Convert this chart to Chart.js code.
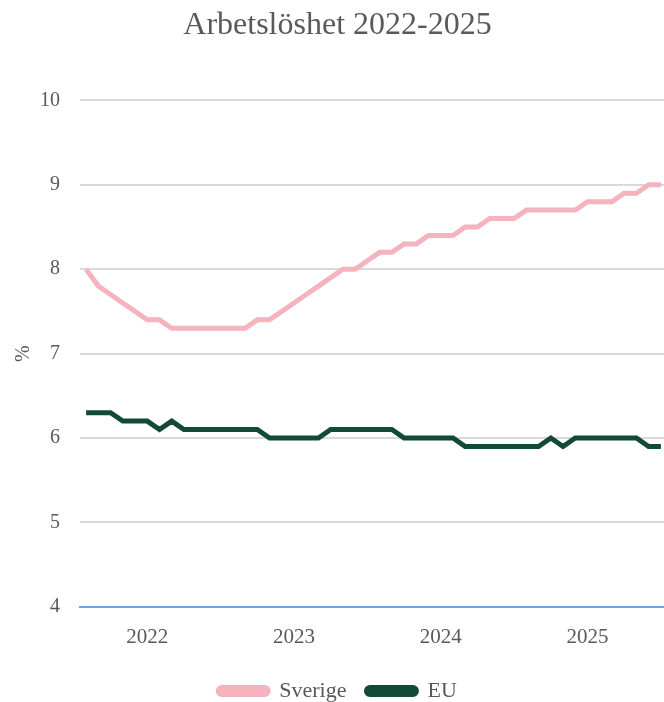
<!DOCTYPE html>
<html>
<head>
<meta charset="utf-8">
<script src="https://cdn.jsdelivr.net/npm/chart.js@4"></script>
<style>
  html, body { margin: 0; padding: 0; overflow: hidden; background: #fff; }
  #wrap { width: 680px; height: 712px; }
</style>
</head>
<body>
<div id="wrap"><canvas id="ledigChart"></canvas></div>
<script>
// månader aug 2021 - jul 2025
const months = [];
for (let y = 2021; y <= 2025; y++) {
    for (let m = 1; m <= 12; m++) {
        if ((y === 2021 && m < 8) || (y === 2025 && m > 7)) continue;
        months.push(y + '-' + String(m).padStart(2, '0'));
    }
}

const sverige = [8.0, 7.8, 7.7, 7.6, 7.5, 7.4, 7.4, 7.3, 7.3, 7.3, 7.3, 7.3,
                 7.3, 7.3, 7.4, 7.4, 7.5, 7.6, 7.7, 7.8, 7.9, 8.0, 8.0, 8.1,
                 8.2, 8.2, 8.3, 8.3, 8.4, 8.4, 8.4, 8.5, 8.5, 8.6, 8.6, 8.6,
                 8.7, 8.7, 8.7, 8.7, 8.7, 8.8, 8.8, 8.8, 8.9, 8.9, 9.0, 9.0];
const eu = [6.3, 6.3, 6.3, 6.2, 6.2, 6.2, 6.1, 6.2, 6.1, 6.1, 6.1, 6.1,
            6.1, 6.1, 6.1, 6.0, 6.0, 6.0, 6.0, 6.0, 6.1, 6.1, 6.1, 6.1,
            6.1, 6.1, 6.0, 6.0, 6.0, 6.0, 6.0, 5.9, 5.9, 5.9, 5.9, 5.9,
            5.9, 5.9, 6.0, 5.9, 6.0, 6.0, 6.0, 6.0, 6.0, 6.0, 5.9, 5.9];
const yTicks = [4, 5, 6, 7, 8, 9, 10];

const grey = '#595959';
const serif = "'Liberation Serif', 'Times New Roman', serif";

const ctx = document.getElementById('ledigChart').getContext('2d');
const chart = new Chart(ctx, {
    type: 'line',
    data: {
        labels: months,
        datasets: [{
                label: 'Sverige',
                data: sverige,
                borderColor: '#f5b3bd',
                backgroundColor: '#f5b3bd',
                borderWidth: 5,
                pointRadius: 0,
                tension: 0
            }, {
                label: 'EU',
                data: eu,
                borderColor: '#124a36',
                backgroundColor: '#124a36',
                borderWidth: 5,
                pointRadius: 0,
                tension: 0
            }]
    },
    options: {
        responsive: true,
        maintainAspectRatio: false,
        animation: false,
        layout: {padding: {left: 8, right: 13, top: 0, bottom: 0}},
        plugins: {
            title: {
                display: true,
                text: 'Arbetslöshet 2022-2025',
                color: grey,
                font: {family: serif, size: 32, weight: 'normal'},
                padding: {top: 6, bottom: 56}
            },
            legend: {
                position: 'bottom',
                labels: {
                    color: grey,
                    font: {family: serif, size: 22},
                    boxWidth: 50,
                    boxHeight: 7,
                    useBorderRadius: true,
                    borderRadius: 3.5,
                    padding: 20
                }
            },
            tooltip: {enabled: false}
        },
        scales: {
            x: {
                offset: true,
                grid: {display: false},
                border: {color: '#6fa3dc', width: 2},
                ticks: {
                    color: grey,
                    font: {family: serif, size: 21},
                    autoSkip: false,
                    maxRotation: 0,
                    padding: 10,
                    callback: function (v) {
                        const l = months[v];
                        return l.endsWith('-01') ? l.slice(0, 4) : '';
                    }
                }
            },
            y: {
                min: yTicks[0],
                max: yTicks[yTicks.length - 1],
                afterBuildTicks: (s) => { s.ticks = yTicks.map(v => ({value: v})); },
                afterFit: (s) => { s.width = 72; },
                grid: {color: '#d9d9d9', lineWidth: 2, drawTicks: false},
                border: {display: false},
                title: {
                    display: true,
                    text: '%',
                    color: grey,
                    font: {family: serif, size: 20}
                },
                ticks: {
                    color: grey,
                    font: {family: serif, size: 20},
                    padding: 20
                }
            }
        }
    }
});
</script>
</body>
</html>
